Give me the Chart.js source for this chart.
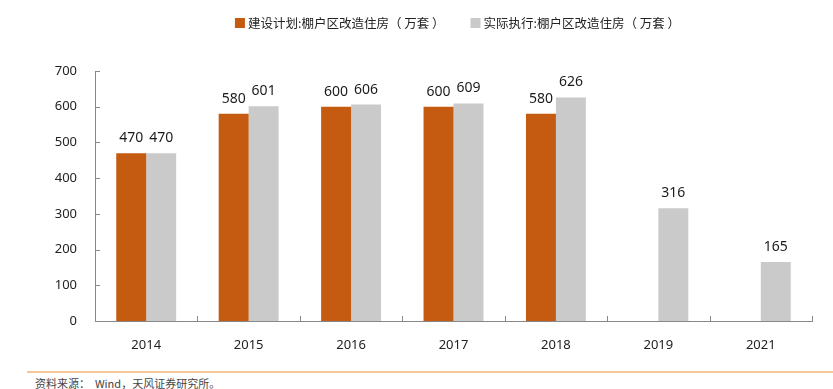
<!DOCTYPE html>
<html>
<head>
<meta charset="utf-8">
<script src="https://cdn.jsdelivr.net/npm/chart.js@4.4.1/dist/chart.umd.min.js"></script>
<style>
  html, body { margin: 0; padding: 0; background: #fff; }
  #wrap { position: relative; width: 833px; height: 389px; }
  #chart { position: absolute; left: 0; top: 0; }
  #line { position: absolute; left: 27px; top: 371px; width: 806px; height: 2px; background: #f7c79b; }
  #src { position: absolute; left: 35px; top: 375px; font: 11px "Noto Sans CJK SC", sans-serif; color: #444; }
</style>
</head>
<body>
<div id="wrap">
  <canvas id="chart" width="833" height="360"></canvas>
  <div id="line"></div>
  <div id="src">资料来源：&nbsp;&nbsp;Wind，天风证券研究所。</div>
</div>
<script>
const years = ["2014", "2015", "2016", "2017", "2018", "2019", "2021"];
const planValues = [470, 580, 600, 600, 580, null, null];
const actualValues = [470, 601, 606, 609, 626, 316, 165];
const yTicks = [0, 100, 200, 300, 400, 500, 600, 700];

const numFont = '"Noto Sans", sans-serif';
const cjkFont = '"Noto Sans CJK SC", sans-serif';

// labels over each bar
const barLabels = {
  id: "barLabels",
  afterDatasetsDraw(chart) {
    const ctx = chart.ctx;
    ctx.save();
    ctx.font = "14px " + numFont;
    ctx.fillStyle = "#1a1a1a";
    ctx.textAlign = "center";
    ctx.textBaseline = "bottom";
    chart.data.datasets.forEach((ds, i) => {
      chart.getDatasetMeta(i).data.forEach((bar, j) => {
        if (ds.data[j] == null) return;
        ctx.fillText(ds.data[j], bar.x, bar.y - 8);
      });
    });
    ctx.restore();
  }
};

// short ticks pointing into the plot
const innerTicks = {
  id: "innerTicks",
  afterDraw(chart) {
    const ctx = chart.ctx;
    const area = chart.chartArea;
    const y = chart.scales.y;
    ctx.save();
    ctx.strokeStyle = "#888";
    ctx.lineWidth = 1;
    ctx.beginPath();
    yTicks.forEach(v => {
      const py = Math.round(y.getPixelForValue(v)) + 0.5;
      ctx.moveTo(area.left, py);
      ctx.lineTo(area.left + 5, py);
    });
    const n = years.length;
    const step = (area.right - area.left) / n;
    for (let i = 0; i <= n; i++) {
      const px = Math.round(area.left + i * step) + 0.5;
      ctx.moveTo(px, area.bottom);
      ctx.lineTo(px, area.bottom - 5);
    }
    ctx.stroke();
    ctx.restore();
  }
};

// legend centred over the plot area
const topLegend = {
  id: "topLegend",
  afterDraw(chart) {
    const ctx = chart.ctx;
    const area = chart.chartArea;
    ctx.save();
    ctx.font = "12.5px " + cjkFont;
    ctx.textBaseline = "middle";
    const box = 10, gapBox = 3, gapItem = 26;
    const items = chart.data.datasets.map(ds => ({ label: ds.label, color: ds.backgroundColor, w: ctx.measureText(ds.label).width }));
    let total = 0;
    items.forEach((it, i) => { total += box + gapBox + it.w + (i ? gapItem : 0); });
    let x = (area.left + area.right) / 2 - total / 2 + 4;
    const cy = 23;
    items.forEach(it => {
      ctx.fillStyle = it.color;
      ctx.fillRect(x, cy - box / 2, box, box);
      x += box + gapBox;
      ctx.fillStyle = "#222";
      ctx.fillText(it.label, x, cy);
      x += it.w + gapItem;
    });
    ctx.restore();
  }
};

new Chart(document.getElementById("chart"), {
  type: "bar",
  data: {
    labels: years,
    datasets: [
      {
        label: "建设计划:棚户区改造住房（ 万套 ）",
        data: planValues,
        backgroundColor: "#c55a11",
        categoryPercentage: 0.585,
        barPercentage: 1.0
      },
      {
        label: "实际执行:棚户区改造住房（ 万套 ）",
        data: actualValues,
        backgroundColor: "#cacaca",
        categoryPercentage: 0.585,
        barPercentage: 1.0
      }
    ]
  },
  options: {
    responsive: false,
    animation: false,
    layout: { padding: { left: 0, right: 21, top: 71, bottom: 0 } },
    plugins: {
      legend: { display: false },
      tooltip: { enabled: false }
    },
    scales: {
      x: {
        grid: { display: false },
        border: { display: true, color: "#888" },
        ticks: { color: "#222", font: { family: numFont, size: 13 }, padding: 8 },
        afterFit(scale) { scale.height = 39; }
      },
      y: {
        min: 0,
        max: 700,
        grid: { display: false },
        border: { display: true, color: "#888" },
        ticks: { stepSize: 100, color: "#222", font: { family: numFont, size: 13 }, padding: 10 },
        afterFit(scale) { scale.width = 95; }
      }
    }
  },
  plugins: [barLabels, innerTicks, topLegend]
});
</script>
</body>
</html>
